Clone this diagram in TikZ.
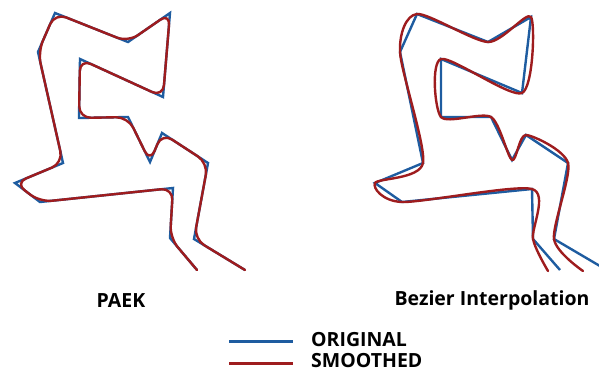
\documentclass[tikz,border=0pt]{standalone}
\usepackage{fontspec}
\setmainfont{Open Sans}
\definecolor{origblue}{RGB}{30,92,160}
\definecolor{smoothred}{RGB}{158,28,30}
\begin{document}
\begin{tikzpicture}[x=1pt,y=-1pt,
  origline/.style={draw=origblue,line width=2.4pt,line join=miter},
  smoothline/.style={draw=smoothred,line width=2.4pt,line cap=round,line join=round},
  lbl/.style={font=\bfseries\fontsize{19.5}{22}\selectfont,inner sep=0pt}]
\useasboundingbox (0,0) rectangle (599,373);
\begin{scope}
\clip (0,0) rectangle (599,373);
% ---- PAEK: original polyline
\draw[origline] (197,270) -- (170,238) -- (173,188) -- (40,202) -- (15,183) -- (63,163)
  -- (38,52) -- (55,13) -- (128,42) -- (170,13) -- (163,97) -- (80,59) -- (79,118)
  -- (128,117) -- (150,162) -- (162,133) -- (208,163) -- (194,239) -- (245,270);
% ---- PAEK: smoothed line
\draw[smoothline,rounded corners=12pt] (197,270) -- (170,238) -- (173,188) -- (40,202) -- (15,183) -- (63,163)
  -- (38,52) -- (55,13) -- (128,42) -- (170,13) -- (163,97) -- (80,59) -- (79,118)
  -- (128,117) -- (150,162) -- (162,133) -- (208,163) -- (194,239) -- (245,270);
% ---- Bezier: original polyline
\draw[origline] (560,270) -- (533,239) -- (532,189) -- (402,202) -- (375,183) -- (423,163)
  -- (400,52) -- (417,14) -- (488,42) -- (531,17) -- (522,93) -- (441,59) -- (441,117)
  -- (491,117) -- (512,160) -- (526,135) -- (568,163) -- (554,239) -- (605,269);
% ---- Bezier: interpolated curve through the vertices
\draw[smoothline] plot[smooth,tension=0.45] coordinates {(548,271) (533,239) (532,189) (402,202) (375,183) (423,163)
  (400,52) (417,14) (488,42) (531,17) (522,93) (441,59) (441,117)
  (491,117) (512,160) (526,135) (568,163) (554,239) (583,271)};
\end{scope}
% ---- captions
\node[lbl] (paek) at (121,301) {PAEK};
\node[lbl] (bez) at (492,300) {Bezier Interpolation};
% ---- legend
\coordinate (ob) at (229,341);
\coordinate (oe) at (293,341);
\coordinate (sb) at (229,363);
\coordinate (se) at (293,363);
\draw[draw=origblue,line width=3pt] (ob) -- (oe);
\draw[draw=smoothred,line width=3pt] (sb) -- (se);
\node[lbl,anchor=west] (korig) at (311,340) {ORIGINAL};
\node[lbl,anchor=west] (ksmooth) at (311,361) {SMOOTHED};
\end{tikzpicture}
\end{document}
